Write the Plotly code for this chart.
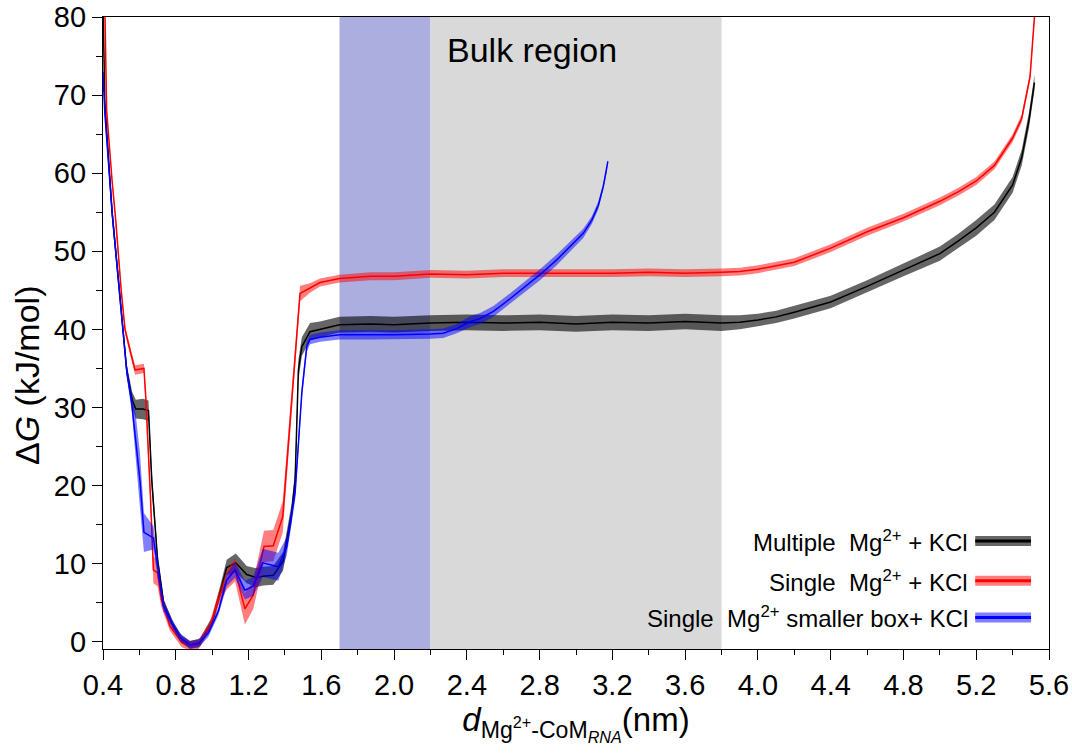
import plotly.graph_objects as go

# ---------------- data ----------------
# Multiple Mg2+ + KCl (black)
black_x = [0.40, 0.41, 0.45, 0.50, 0.53, 0.56, 0.58, 0.62, 0.65, 0.668,
           0.70, 0.735, 0.787, 0.833, 0.878, 0.933, 1.0, 1.04, 1.08, 1.13,
           1.19, 1.245, 1.28, 1.336, 1.39, 1.437, 1.456, 1.474, 1.493, 1.538,
           1.593, 1.70, 1.87, 2.0, 2.2, 2.4, 2.6, 2.8, 3.0, 3.2,
           3.4, 3.6, 3.8, 3.9, 4.0, 4.1, 4.2, 4.4, 4.6, 4.8,
           5.0, 5.1, 5.2, 5.3, 5.4, 5.45, 5.49, 5.52]
black_y = [82, 69, 55, 43, 34.8, 31, 29.8, 29.8, 29.6, 20.7,
           10.5, 4.7, 2.0, 0.3, -0.4, -0.1, 2.6, 6.0, 9.5, 10.1,
           8.6, 8.2, 8.4, 8.5, 10.3, 16.5, 20.7, 34.8, 37.8, 39.7,
           40.0, 40.6, 40.7, 40.6, 40.8, 40.9, 40.8, 40.9, 40.7, 40.9,
           40.8, 41.0, 40.8, 40.9, 41.2, 41.6, 42.2, 43.5, 45.5, 47.6,
           49.7, 51.3, 53.0, 55.0, 58.5, 62.0, 66.8, 71.6]
black_err = [1.0, 1.0, 1.0, 0.8, 0.8, 1.0, 1.2, 1.3, 1.3, 1.2,
             0.8, 0.6, 0.5, 0.5, 0.5, 0.5, 0.6, 0.8, 1.0, 1.2,
             1.1, 1.2, 1.2, 1.2, 1.2, 1.2, 1.2, 1.3, 1.2, 1.1,
             1.0, 1.0, 1.0, 1.0, 1.0, 1.0, 1.0, 1.0, 1.0, 1.0,
             1.0, 1.0, 1.0, 0.9, 0.8, 0.8, 0.8, 0.8, 0.8, 0.8,
             0.9, 0.9, 1.0, 1.0, 1.0, 1.0, 1.0, 1.0]

# Single Mg2+ + KCl (red)
red_x = [0.40, 0.411, 0.42, 0.45, 0.47, 0.50, 0.521, 0.55, 0.576, 0.625,
         0.636, 0.66, 0.677, 0.70, 0.72, 0.768, 0.833, 0.878, 0.924, 0.988,
         1.034, 1.08, 1.126, 1.18, 1.226, 1.285, 1.336, 1.388, 1.483, 1.538,
         1.593, 1.70, 1.87, 2.0, 2.2, 2.4, 2.6, 2.8, 3.0, 3.2,
         3.4, 3.6, 3.8, 3.9, 4.0, 4.2, 4.4, 4.6, 4.8, 5.0,
         5.1, 5.2, 5.3, 5.4, 5.45, 5.47, 5.496, 5.52, 5.53]
red_y = [95, 80, 68, 59, 54, 45, 40, 37.2, 34.8, 35.0,
         31, 19, 9.2, 8.8, 5.5, 2.0, -0.1, -0.5, -0.4, 2.0,
         5.4, 7.9, 9.2, 4.2, 6.0, 12.2, 12.3, 16.0, 44.6, 45.3,
         46.0, 46.5, 46.8, 46.8, 47.1, 47.0, 47.2, 47.2, 47.2, 47.2,
         47.3, 47.2, 47.3, 47.4, 47.7, 48.6, 50.4, 52.5, 54.3, 56.4,
         57.6, 59.0, 61.0, 64.5, 67.0, 69.4, 72.4, 80, 85]
red_err = [0.5, 0.5, 0.5, 0.5, 0.5, 0.5, 0.5, 0.5, 0.6, 0.6,
           0.6, 1.0, 1.7, 1.7, 1.0, 0.6, 0.6, 0.6, 0.6, 0.6,
           0.8, 1.2, 1.5, 2.0, 1.8, 2.0, 2.0, 2.0, 1.0, 0.6,
           0.5, 0.5, 0.5, 0.5, 0.5, 0.5, 0.5, 0.5, 0.5, 0.5,
           0.5, 0.5, 0.5, 0.5, 0.5, 0.5, 0.5, 0.5, 0.5, 0.5,
           0.5, 0.5, 0.5, 0.5, 0.5, 0.5, 0.5, 0.5, 0.5]

# Single Mg2+ smaller box + KCl (blue)
blue_x = [0.40, 0.41, 0.45, 0.50, 0.53, 0.558, 0.58, 0.603, 0.625, 0.677,
          0.731, 0.778, 0.823, 0.878, 0.924, 0.979, 1.034, 1.08, 1.126, 1.18,
          1.226, 1.278, 1.364, 1.41, 1.456, 1.493, 1.52, 1.538, 1.593, 1.70,
          1.87, 2.0, 2.2, 2.27, 2.344, 2.42, 2.473, 2.546, 2.62, 2.711,
          2.802, 2.894, 2.986, 3.04, 3.087, 3.123, 3.15, 3.169, 3.175]
blue_y = [73, 67.7, 55, 43, 34.8, 30.5, 26, 20.7, 14, 13.3,
          4.7, 2.4, 0.6, -0.4, -0.26, 1.1, 3.9, 7.9, 9.2, 6.6,
          7.1, 10.1, 9.6, 12.2, 19.1, 31.9, 37.8, 38.7, 39.0, 39.3,
          39.3, 39.3, 39.4, 39.5, 40.1, 41.0, 41.4, 42.3, 43.6, 45.3,
          47.0, 48.9, 51.0, 52.3, 54.0, 55.9, 58.3, 60.4, 61.5]
blue_err = [0.8, 0.8, 0.8, 0.8, 0.8, 1.0, 3.0, 3.5, 2.5, 1.5,
            0.8, 0.5, 0.5, 0.5, 0.5, 0.5, 0.5, 0.8, 1.0, 1.2,
            1.2, 1.8, 1.8, 1.2, 1.0, 0.8, 0.7, 0.6, 0.6, 0.6,
            0.6, 0.6, 0.6, 0.6, 0.6, 0.7, 0.7, 0.7, 0.7, 0.7,
            0.7, 0.7, 0.6, 0.6, 0.5, 0.5, 0.4, 0.3, 0.3]

# shaded regions (nm)
blue_region = [1.7, 2.2]
bulk_region = [2.2, 3.8]

x_ticks = [0.4, 0.8, 1.2, 1.6, 2.0, 2.4, 2.8, 3.2, 3.6, 4.0, 4.4, 4.8, 5.2, 5.6]
x_tick_labels = ["0.4", "0.8", "1.2", "1.6", "2.0", "2.4", "2.8", "3.2", "3.6", "4.0", "4.4", "4.8", "5.2", "5.6"]
y_ticks = [0, 10, 20, 30, 40, 50, 60, 70, 80]

legend_labels = ["Multiple\u00a0\u00a0Mg<sup>2+</sup> + KCl",
                 "Single\u00a0\u00a0Mg<sup>2+</sup> + KCl",
                 "Single\u00a0\u00a0Mg<sup>2+</sup> smaller box+ KCl"]

FONT = "Liberation Sans, Arial, Helvetica, sans-serif"

series = [
    (black_x, black_y, black_err, "black", "rgba(0,0,0,0.6)"),
    (red_x, red_y, red_err, "#ff0000", "rgba(255,0,0,0.5)"),
    (blue_x, blue_y, blue_err, "#0000ff", "rgba(0,0,255,0.5)"),
]

fig = go.Figure()
for xs, ys, es, lc, bc in series:
    up = [y + e for y, e in zip(ys, es)]
    lo = [y - e for y, e in zip(ys, es)]
    fig.add_trace(go.Scatter(x=xs + xs[::-1], y=up + lo[::-1], fill="toself",
                             fillcolor=bc, line=dict(width=0), mode="lines",
                             hoverinfo="skip", showlegend=False))
    fig.add_trace(go.Scatter(x=xs, y=ys, mode="lines",
                             line=dict(color=lc, width=1.5), showlegend=False))

shapes = [
    dict(type="rect", xref="x", yref="paper", x0=blue_region[0], x1=blue_region[1],
         y0=0, y1=1, fillcolor="#adaee0", line=dict(width=0), layer="below"),
    dict(type="rect", xref="x", yref="paper", x0=bulk_region[0], x1=bulk_region[1],
         y0=0, y1=1, fillcolor="#d9d9d9", line=dict(width=0), layer="below"),
]

annotations = [
    dict(text="Bulk region", x=2.76, y=75.8, xref="x", yref="y", showarrow=False,
         font=dict(family=FONT, size=34, color="black")),
    dict(text="\u0394<i>G</i> (kJ/mol)", x=-0.081, y=34.2, xref="paper", yref="y",
         textangle=-90, showarrow=False, xanchor="center", yanchor="middle",
         font=dict(family=FONT, size=34, color="black")),
]

# legend (custom, text right-aligned with sample on the right)
leg_rows = [0.171, 0.108, 0.050]
for lab, ry, (xs, ys, es, lc, bc) in zip(legend_labels, leg_rows, series):
    annotations.append(dict(text=lab, x=0.916, y=ry, xref="paper", yref="paper",
                            xanchor="right", yanchor="middle", showarrow=False,
                            font=dict(family=FONT, size=24, color="black")))
    shapes.append(dict(type="line", xref="paper", yref="paper", x0=0.922, x1=0.981,
                       y0=ry, y1=ry, line=dict(color=bc, width=10)))
    shapes.append(dict(type="line", xref="paper", yref="paper", x0=0.922, x1=0.981,
                       y0=ry, y1=ry, line=dict(color=lc, width=3)))

fig.update_layout(
    width=1072, height=755,
    margin=dict(l=103, r=23, t=17, b=106),
    plot_bgcolor="white", paper_bgcolor="white",
    font=dict(family=FONT, color="black"),
    shapes=shapes, annotations=annotations,
    showlegend=False,
)
fig.update_xaxes(
    range=[0.4, 5.6], tickmode="array", tickvals=x_ticks, ticktext=x_tick_labels,
    ticks="outside", ticklen=10, tickwidth=1.2, tickcolor="black",
    minor=dict(dtick=0.2, tick0=0.4, ticks="outside", ticklen=5, tickwidth=1.2, tickcolor="black"),
    showline=True, linecolor="black", linewidth=1.2, mirror=True, showgrid=False, zeroline=False,
    tickfont=dict(family=FONT, size=29), automargin=False,
    title=dict(text="<i>d</i><sub>Mg<sup>2+</sup>-CoM<sub><i>RNA</i></sub></sub>(nm)",
               font=dict(family=FONT, size=33), standoff=2),
)
fig.update_yaxes(
    range=[-0.93, 80], tickmode="array", tickvals=y_ticks,
    ticks="outside", ticklen=10, tickwidth=1.2, tickcolor="black",
    minor=dict(dtick=5, tick0=0, ticks="outside", ticklen=6, tickwidth=1.2, tickcolor="black"),
    showline=True, linecolor="black", linewidth=1.2, mirror=True, showgrid=False, zeroline=False,
    tickfont=dict(family=FONT, size=29), automargin=False,
)

fig.write_html("out.html")
